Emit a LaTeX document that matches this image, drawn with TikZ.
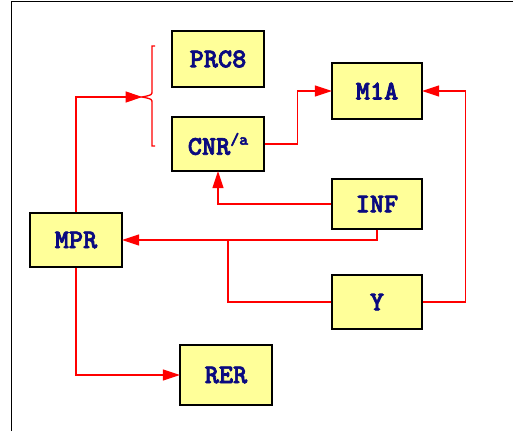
\documentclass[tikz,border=0pt]{standalone}
\usepackage{fontspec}
\newfontfamily\blkfont{lmmonolt10-bold}[Extension=.otf, FakeBold=2.5]
\usepackage{tikz}
\usetikzlibrary{positioning}
\usetikzlibrary{%
  calc,%
  arrows.meta%
}
\definecolor{blkfill}{RGB}{255,255,153}
\definecolor{blktext}{RGB}{10,10,128}
\tikzset{
  blk/.style={draw=black, line width=1.3pt, fill=blkfill, text=blktext,
    minimum width=92pt, minimum height=56pt, inner sep=0pt,
    font=\blkfont\fontsize{27}{27}\selectfont},
  flow/.style={draw=red, line width=1.3pt,
    -{Triangle[length=17pt,width=11pt]}, shorten >=-0.5pt},
  plain/.style={draw=red, line width=1.3pt}
}

\begin{document}
\begin{tikzpicture}[x=1pt, y=-1pt]
\useasboundingbox (0,0) rectangle (516,431);
\draw[line width=0.9pt] (11,431) -- (11,1) -- (513,1);

\node[blk] (PRC) at (218,59) {PRC8};
\node[blk, minimum width=90pt] (M1A) at (377,91) {M1A};
\node[blk, minimum height=54pt] (CNR) at (218,144) {CNR\raisebox{10pt}{\fontsize{17}{17}\selectfont/a}};
\node[blk, minimum width=90pt, minimum height=50pt] (INF) at (377,204) {INF};
\node[blk, minimum height=54pt] (MPR) at (76,240) {MPR};
\node[blk, minimum width=90pt, minimum height=54pt] (Y) at (377,302) {Y};
\node[blk, minimum height=60pt] (RER) at (226,375) {RER};

\coordinate (brace) at (142,97);
\coordinate (join) at (228,240);

% brace
\draw[plain] (155,46) -- (152,46) -- (152,91) .. controls (152,95) .. (brace)
  .. controls (152,99) .. (152,103) -- (152,146) -- (155,146);

\draw
	(MPR.north) edge[flow, to path={|- (\tikztotarget)}] (brace)
	(CNR.east) edge[flow, to path={-- ++(33,0) |- (\tikztotarget)}] (M1A.west)
	(Y.east) edge[flow, to path={-- ++(43,0) |- (\tikztotarget)}] (M1A.east)
	(INF.west) edge[flow, to path={-| (\tikztotarget)}] (CNR.south)
	(INF.south) edge[flow, to path={|- (\tikztotarget)}] (MPR.east)
	(Y.west) edge[plain, to path={-| (\tikztotarget)}] (join)
	(MPR.south) edge[flow, to path={|- (\tikztotarget)}] (RER.west)
;
\end{tikzpicture}
\end{document}
